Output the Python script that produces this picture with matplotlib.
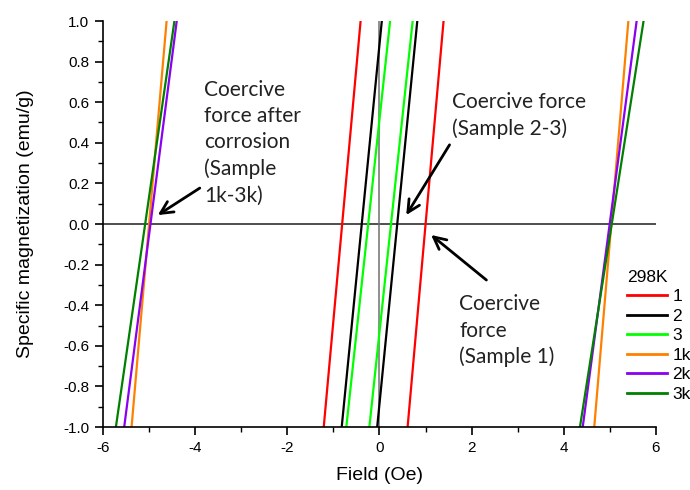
import matplotlib
matplotlib.use("Agg")
import matplotlib.pyplot as plt
from matplotlib.ticker import MultipleLocator

plt.rcParams["font.family"] = ["Liberation Sans", "DejaVu Sans"]

# ---- data ----
samples = ["1", "2", "3", "1k", "2k", "3k"]
colors = ["#FF0000", "#000000", "#00FF00", "#FF8000", "#8A00F0", "#008000"]
magnetization = [-1.0, 1.0]
# descending / ascending branch field values at M = -1 and M = +1
branch_a_field = [[-1.21, -0.41], [-0.82, 0.05], [-0.72, 0.23],
                  [-5.38, -4.62], [-5.54, -4.40], [-5.72, -4.45]]
branch_b_field = [[0.61, 1.39], [-0.05, 0.82], [-0.22, 0.72],
                  [4.66, 5.40], [4.41, 5.58], [4.35, 5.73]]

x_ticks = [-6, -4, -2, 0, 2, 4, 6]
y_ticks = [-1.0, -0.8, -0.6, -0.4, -0.2, 0.0, 0.2, 0.4, 0.6, 0.8, 1.0]

W, H = 690, 490
fig = plt.figure(figsize=(W / 100, H / 100), dpi=100)
ax = fig.add_axes([103 / W, 1 - 427 / H, (656 - 103) / W, (427 - 21) / H])

ax.axhline(0, color="#404040", lw=1.3, zorder=1)
ax.axvline(0, color="#707070", lw=1.1, zorder=1)

for name, c, fa, fb in zip(samples, colors, branch_a_field, branch_b_field):
    ax.plot(fa, magnetization, color=c, lw=1.6, label=name, zorder=2)
    ax.plot(fb, magnetization, color=c, lw=1.6, zorder=2)

ax.set_xlim(-6, 6)
ax.set_ylim(-1, 1)
ax.set_xticks(x_ticks)
ax.set_xticklabels([str(t) for t in x_ticks])
ax.set_yticks(y_ticks)
ax.set_yticklabels([f"{t:.1f}" for t in y_ticks])
ax.xaxis.set_minor_locator(MultipleLocator(1))
ax.yaxis.set_minor_locator(MultipleLocator(0.1))
ax.tick_params(which="major", direction="out", length=6, width=1.2, labelsize=11, pad=4)
ax.tick_params(which="minor", direction="out", length=3.5, width=1.0)
for s in ["top", "right"]:
    ax.spines[s].set_visible(False)
for s in ["left", "bottom"]:
    ax.spines[s].set_linewidth(1.2)

ax.set_xlabel("Field (Oe)", fontsize=14, labelpad=9)
ax.set_ylabel("Specific magnetization (emu/g)", fontsize=14)
ax.yaxis.set_label_coords(-0.125, 0.5)

afont = dict(family=["Lato", "DejaVu Sans"], fontsize=15, linespacing=1.38, color="#222222")
ax.text(-3.81, 0.40, "Coercive\nforce after\ncorrosion\n(Sample\n1k-3k)", ha="left", va="center", **afont)
ax.text(1.58, 0.534, "Coercive force\n(Sample 2-3)", ha="left", va="center", **afont)
ax.text(1.73, -0.527, "Coercive\nforce\n(Sample 1)", ha="left", va="center", **afont)

aprops = dict(arrowstyle="->", lw=2, color="black", mutation_scale=22, shrinkA=0, shrinkB=0)
ax.annotate("", xy=(-4.81, 0.044), xytext=(-3.90, 0.177), arrowprops=aprops)
ax.annotate("", xy=(0.58, 0.044), xytext=(1.52, 0.39), arrowprops=aprops)
ax.annotate("", xy=(1.12, -0.054), xytext=(2.32, -0.276), arrowprops=aprops)

leg = ax.legend(title="298K", loc="upper left", bbox_to_anchor=(627 / W, 1 - 270 / H),
                bbox_transform=fig.transFigure, frameon=False, fontsize=12.5,
                title_fontsize=12.5, handlelength=2.3, handletextpad=0.3,
                labelspacing=0.25, borderpad=0, borderaxespad=0, alignment="left")
for l in leg.get_lines():
    l.set_linewidth(2)

fig.savefig("out.png", dpi=100)
